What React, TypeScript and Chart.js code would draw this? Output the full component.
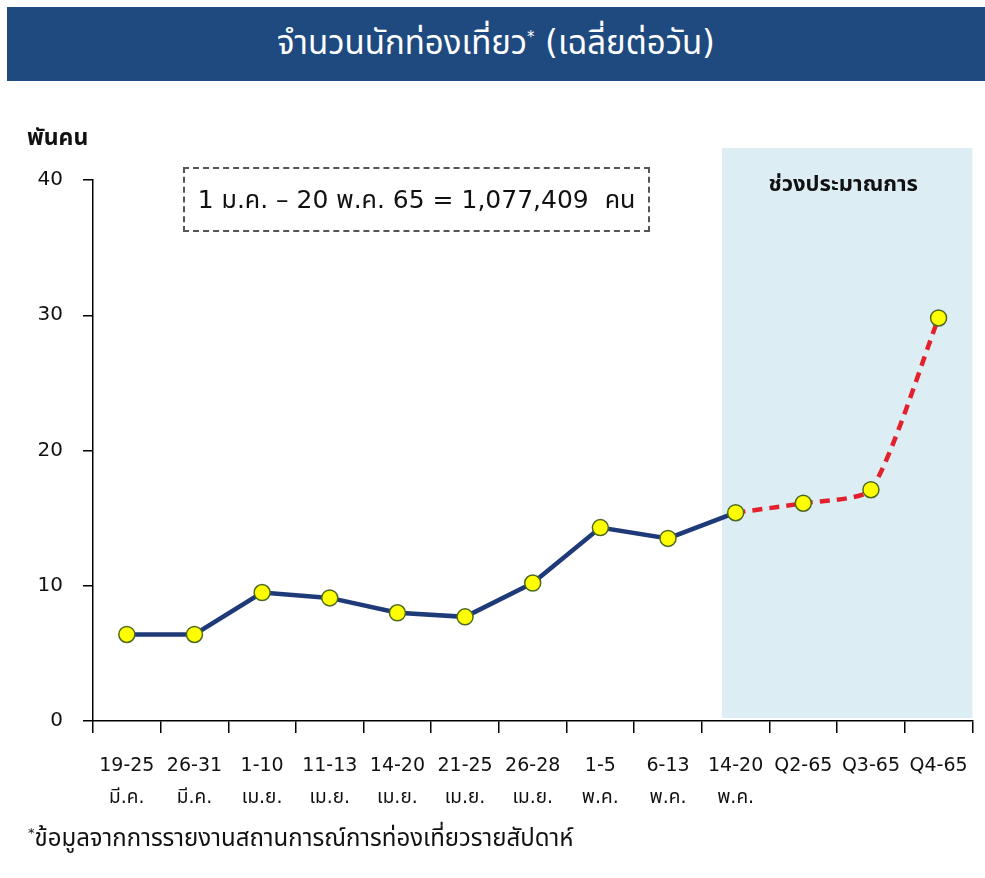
import React, { useEffect, useRef } from "react";
import { Chart, registerables } from "chart.js";

Chart.register(...registerables);

const rangeLabels = ["19-25", "26-31", "1-10", "11-13", "14-20", "21-25", "26-28", "1-5", "6-13", "14-20", "Q2-65", "Q3-65", "Q4-65"];
const monthLabels = ["มี.ค.", "มี.ค.", "เม.ย.", "เม.ย.", "เม.ย.", "เม.ย.", "เม.ย.", "พ.ค.", "พ.ค.", "พ.ค.", "", "", ""];
const actualValues = [6.4, 6.4, 9.5, 9.1, 8.0, 7.7, 10.2, 14.3, 13.5, 15.4, null, null, null];
const forecastValues = [null, null, null, null, null, null, null, null, null, 15.4, 16.1, 17.1, 29.8];
const yTicks = [0, 10, 20, 30, 40];
const forecastStartIndex = 9;

const FONT = "'DejaVu Sans', 'Noto Sans Thai', 'Noto Sans', sans-serif";

const shadePlugin = {
  id: "shade",
  beforeDatasetsDraw(chart: any) {
    const { ctx, chartArea, scales } = chart;
    const x = scales.x;
    const step = x.getPixelForValue(1) - x.getPixelForValue(0);
    const left = x.getPixelForValue(forecastStartIndex) - 0.2 * step;
    const top = chartArea.top - 32;
    const bottom = chartArea.bottom - 3;
    ctx.save();
    ctx.fillStyle = "#dcedf4";
    ctx.fillRect(left, top, chartArea.right - left, bottom - top);
    ctx.fillStyle = "#111";
    ctx.font = `bold 22px ${FONT}`;
    ctx.textAlign = "center";
    ctx.textBaseline = "middle";
    ctx.fillText("ช่วงประมาณการ", (left + chartArea.right) / 2 - 4, chartArea.top + 5);
    ctx.restore();
  },
};

export default function App() {
  const ref = useRef<HTMLCanvasElement>(null);
  useEffect(() => {
    document.body.style.margin = "0";
    const chart = new Chart(ref.current as HTMLCanvasElement, {
      type: "line",
      data: {
        labels: rangeLabels.map((r, i) => (monthLabels[i] ? [r, monthLabels[i]] : [r])),
        datasets: [
          {
            data: actualValues,
            borderColor: "#1f3a78",
            borderWidth: 4.5,
            pointRadius: 8,
            pointBackgroundColor: "#ffff00",
            pointBorderColor: "#4e6a22",
            pointBorderWidth: 1.5,
            tension: 0,
            order: 1,
          },
          {
            data: forecastValues,
            borderColor: "#e3202b",
            borderWidth: 4.5,
            borderDash: [10, 7],
            pointRadius: forecastValues.map((v, i) => (i > forecastStartIndex ? 8 : 0)),
            pointBackgroundColor: "#ffff00",
            pointBorderColor: "#4e6a22",
            pointBorderWidth: 1.5,
            tension: 0.2,
            order: 2,
          },
        ],
      },
      options: {
        animation: false,
        responsive: false,
        layout: { padding: { left: 20, right: 10, top: 180, bottom: 0 } },
        plugins: { legend: { display: false }, tooltip: { enabled: false } },
        scales: {
          x: {
            offset: true,
            grid: { offset: true, drawOnChartArea: false, drawTicks: true, tickLength: 12, tickColor: "#000", lineWidth: 1.5 },
            border: { display: true, color: "#000", width: 1.5 },
            ticks: {
              color: "#111",
              font: { family: FONT, size: 19, lineHeight: 1.7 },
              padding: 17,
              maxRotation: 0,
              autoSkip: false,
            },
            afterFit: (s: any) => {
              s.height = 157;
            },
          },
          y: {
            min: 0,
            max: 40,
            afterBuildTicks: (s: any) => {
              s.ticks = yTicks.map((v) => ({ value: v }));
            },
            grid: { drawOnChartArea: false, drawTicks: true, tickLength: 10, tickColor: "#000", lineWidth: 1.5 },
            border: { display: true, color: "#000", width: 1.5 },
            ticks: { color: "#111", font: { family: FONT, size: 20 }, padding: 20 },
            afterFit: (s: any) => {
              s.width = 73;
            },
          },
        },
      },
      plugins: [shadePlugin],
    });
    return () => chart.destroy();
  }, []);

  return (
    <div style={{ position: "relative", width: 985, height: 878, background: "#fff", fontFamily: FONT, overflow: "hidden" }}>
      <canvas ref={ref} width={985} height={878} style={{ position: "absolute", left: 0, top: 0 }} />
      <div
        style={{
          position: "absolute",
          left: 7,
          top: 7,
          width: 978,
          height: 74,
          background: "#1e4a80",
          color: "#fff",
          fontSize: 33,
          display: "flex",
          alignItems: "center",
          justifyContent: "center",
        }}
      >
        <span>
          จำนวนนักท่องเที่ยว<sup style={{ fontSize: 15 }}>*</sup> (เฉลี่ยต่อวัน)
        </span>
      </div>
      <div style={{ position: "absolute", left: 27, top: 121, fontSize: 23, fontWeight: "bold", color: "#111" }}>พันคน</div>
      <div
        style={{
          position: "absolute",
          left: 183,
          top: 167,
          width: 467,
          height: 65,
          boxSizing: "border-box",
          border: "2px dashed #555",
          display: "flex",
          alignItems: "center",
          justifyContent: "center",
          fontSize: 25,
          color: "#111",
          whiteSpace: "pre",
        }}
      >
        {"1 ม.ค. – 20 พ.ค. 65 = 1,077,409  คน"}
      </div>
      <div style={{ position: "absolute", left: 28, top: 821, fontSize: 24, color: "#111" }}>
        <sup style={{ fontSize: 13 }}>*</sup>ข้อมูลจากการรายงานสถานการณ์การท่องเที่ยวรายสัปดาห์
      </div>
    </div>
  );
}
